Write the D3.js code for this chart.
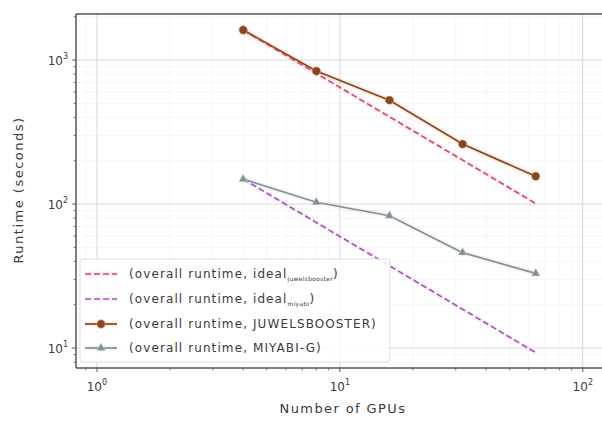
<!DOCTYPE html>
<html lang="en">
  <head>
    <meta charset="UTF-8" />
    <title>Runtime scaling</title>
    <style>
      body { margin: 0; background: #fff; }
      text { font-family: "DejaVu Sans", sans-serif; fill: #3a3a3a; }
    </style>
  </head>
  <body>
    <svg id="svg" width="602" height="421"></svg>

    <script src="https://cdn.jsdelivr.net/npm/d3@7"></script>
    <script>
      const WIDTH = 602;
      const HEIGHT = 421;
      const LEFT = 76;
      const RIGHT = 608;
      const TOP = 14;
      const BOTTOM = 368;

      const GPUS = [4, 8, 16, 32, 64];
      const JUWELS = [1617, 839, 527, 261, 156];
      const MIYABI = [149, 103, 83, 46, 33];
      const IDEAL_JUWELS = [1617, 808, 404, 202, 101];
      const IDEAL_MIYABI = [149, 74.5, 37.3, 18.6, 9.3];
      const X_TICKS = [1, 10, 100];
      const Y_TICKS = [10, 100, 1000];

      const svg = d3.select("#svg");

      const x = d3.scaleLog().domain([0.82, 127]).range([LEFT, RIGHT]);
      const y = d3.scaleLog().domain([7.27, 2090]).range([BOTTOM, TOP]);

      function minorTicks(lo, hi) {
        const out = [];
        for (let e = Math.floor(Math.log10(lo)); e <= Math.ceil(Math.log10(hi)); e++) {
          for (let m = 2; m < 10; m++) {
            const v = m * Math.pow(10, e);
            if (v > lo && v < hi) out.push(v);
          }
        }
        return out;
      }
      const xMinor = minorTicks(0.82, 127);
      const yMinor = minorTicks(7.27, 2090);

      // grid
      const grid = svg.append("g");
      grid.selectAll(".xm").data(xMinor).join("line")
        .attr("x1", (d) => x(d)).attr("x2", (d) => x(d))
        .attr("y1", TOP).attr("y2", BOTTOM)
        .attr("stroke", "#f4f4f4").attr("stroke-width", 0.8);
      grid.selectAll(".ym").data(yMinor).join("line")
        .attr("y1", (d) => y(d)).attr("y2", (d) => y(d))
        .attr("x1", LEFT).attr("x2", RIGHT)
        .attr("stroke", "#f4f4f4").attr("stroke-width", 0.8);
      grid.selectAll(".xg").data(X_TICKS).join("line")
        .attr("x1", (d) => x(d)).attr("x2", (d) => x(d))
        .attr("y1", TOP).attr("y2", BOTTOM)
        .attr("stroke", "#d8d8d8").attr("stroke-width", 1);
      grid.selectAll(".yg").data(Y_TICKS).join("line")
        .attr("y1", (d) => y(d)).attr("y2", (d) => y(d))
        .attr("x1", LEFT).attr("x2", RIGHT)
        .attr("stroke", "#d8d8d8").attr("stroke-width", 1);

      const line = d3.line().x((d) => x(d[0])).y((d) => y(d[1]));
      const pts = (vals) => GPUS.map((g, i) => [g, vals[i]]);
      const CIRCLE = 55;
      const TRI = 32;

      // ideal lines
      function dashed(vals, color, halo) {
        svg.append("path").attr("d", line(pts(vals)))
          .attr("fill", "none").attr("stroke", halo).attr("stroke-opacity", 0.15)
          .attr("stroke-width", 5);
        svg.append("path").attr("d", line(pts(vals)))
          .attr("fill", "none").attr("stroke", color).attr("stroke-width", 1.7)
          .attr("stroke-dasharray", "6,3");
      }
      dashed(IDEAL_JUWELS, "#d8486a", "#ffb0c0");
      dashed(IDEAL_MIYABI, "#a458b0", "#e6b0f0");

      // measured lines
      function series(vals, color, halo, marker) {
        svg.append("path").attr("d", line(pts(vals)))
          .attr("fill", "none").attr("stroke", halo).attr("stroke-opacity", 0.2)
          .attr("stroke-width", 5);
        svg.append("path").attr("d", line(pts(vals)))
          .attr("fill", "none").attr("stroke", color).attr("stroke-width", 1.7);
        svg.append("g").selectAll("path").data(pts(vals)).join("path")
          .attr("transform", (d) => `translate(${x(d[0])},${y(d[1])})`)
          .attr("d", d3.symbol().type(marker).size(marker === d3.symbolCircle ? CIRCLE : TRI)())
          .attr("fill", color).attr("stroke", halo).attr("stroke-opacity", 0.6).attr("stroke-width", 1);
      }
      series(JUWELS, "#84452a", "#f5a050", d3.symbolCircle);
      series(MIYABI, "#8c8c8c", "#b0d8e8", d3.symbolTriangle);

      // spines
      svg.append("line").attr("x1", LEFT).attr("x2", RIGHT).attr("y1", TOP).attr("y2", TOP)
        .attr("stroke", "#555").attr("stroke-width", 1.5);
      svg.append("line").attr("x1", LEFT).attr("x2", RIGHT).attr("y1", BOTTOM).attr("y2", BOTTOM)
        .attr("stroke", "#555").attr("stroke-width", 1.5);
      svg.append("line").attr("x1", LEFT).attr("x2", LEFT).attr("y1", TOP).attr("y2", BOTTOM)
        .attr("stroke", "#555").attr("stroke-width", 1.5);

      // ticks
      const ticks = svg.append("g").attr("stroke", "#555");
      ticks.selectAll(".a").data(X_TICKS).join("line")
        .attr("x1", (d) => x(d)).attr("x2", (d) => x(d))
        .attr("y1", BOTTOM).attr("y2", BOTTOM + 4);
      ticks.selectAll(".b").data(xMinor).join("line")
        .attr("x1", (d) => x(d)).attr("x2", (d) => x(d))
        .attr("y1", BOTTOM).attr("y2", BOTTOM + 2.5).attr("stroke-width", 0.8);
      ticks.selectAll(".c").data(Y_TICKS).join("line")
        .attr("y1", (d) => y(d)).attr("y2", (d) => y(d))
        .attr("x1", LEFT - 4).attr("x2", LEFT);
      ticks.selectAll(".d").data(yMinor).join("line")
        .attr("y1", (d) => y(d)).attr("y2", (d) => y(d))
        .attr("x1", LEFT - 2.5).attr("x2", LEFT).attr("stroke-width", 0.8);

      const sup = (sel, e) => {
        sel.append("tspan").text("10");
        sel.append("tspan").attr("dy", -6).attr("font-size", 8).text(e);
      };
      X_TICKS.forEach((t) => {
        const tx = svg.append("text").attr("x", x(t)).attr("y", BOTTOM + 23)
          .attr("text-anchor", "middle").attr("font-size", 12);
        sup(tx, Math.round(Math.log10(t)));
      });
      Y_TICKS.forEach((t) => {
        const ty = svg.append("text").attr("x", LEFT - 8).attr("y", y(t) + 5)
          .attr("text-anchor", "end").attr("font-size", 12);
        sup(ty, Math.round(Math.log10(t)));
      });

      svg.append("text").attr("x", 343).attr("y", 413).attr("text-anchor", "middle")
        .attr("font-size", 13).attr("letter-spacing", 1.4).text("Number of GPUs");
      svg.append("text").attr("transform", `translate(23,190) rotate(-90)`)
        .attr("text-anchor", "middle").attr("font-size", 13).attr("letter-spacing", 1.5)
        .text("Runtime (seconds)");

      // legend
      const legend = svg.append("g");
      legend.append("rect").attr("x", 80).attr("y", 259).attr("width", 310).attr("height", 103)
        .attr("rx", 3).attr("fill", "#fff").attr("fill-opacity", 0.85)
        .attr("stroke", "#ddd");
      const items = [
        { main: "(overall runtime, ideal", sub: "juwelsbooster", end: ")", color: "#d8486a", halo: "#ffb0c0", dash: true },
        { main: "(overall runtime, ideal", sub: "miyabi", end: ")", color: "#a458b0", halo: "#e6b0f0", dash: true },
        { main: "(overall runtime, JUWELSBOOSTER)", color: "#84452a", halo: "#f5a050", marker: d3.symbolCircle },
        { main: "(overall runtime, MIYABI-G)", color: "#8c8c8c", halo: "#b0d8e8", marker: d3.symbolTriangle },
      ];
      const rowY = [274, 299, 324, 348];
      items.forEach((it, i) => {
        const yy = rowY[i];
        legend.append("line").attr("x1", 85).attr("x2", 117).attr("y1", yy).attr("y2", yy)
          .attr("stroke", it.halo).attr("stroke-opacity", 0.2).attr("stroke-width", 5);
        legend.append("line").attr("x1", 85).attr("x2", 117).attr("y1", yy).attr("y2", yy)
          .attr("stroke", it.color).attr("stroke-width", 1.7)
          .attr("stroke-dasharray", it.dash ? "6,3" : null);
        if (it.marker) {
          legend.append("path").attr("transform", `translate(101,${yy})`)
            .attr("d", d3.symbol().type(it.marker).size(it.marker === d3.symbolCircle ? CIRCLE : TRI)())
            .attr("fill", it.color).attr("stroke", it.halo).attr("stroke-opacity", 0.6);
        }
        const t = legend.append("text").attr("x", 129).attr("y", yy + 4)
          .attr("font-size", 12).attr("letter-spacing", 1.1);
        t.append("tspan").text(it.main);
        if (it.sub) {
          t.append("tspan").attr("dy", 3).attr("font-size", 6).attr("letter-spacing", 0.3).text(it.sub);
          t.append("tspan").attr("dy", -3).text(it.end);
        }
      });
    </script>
  </body>
</html>
